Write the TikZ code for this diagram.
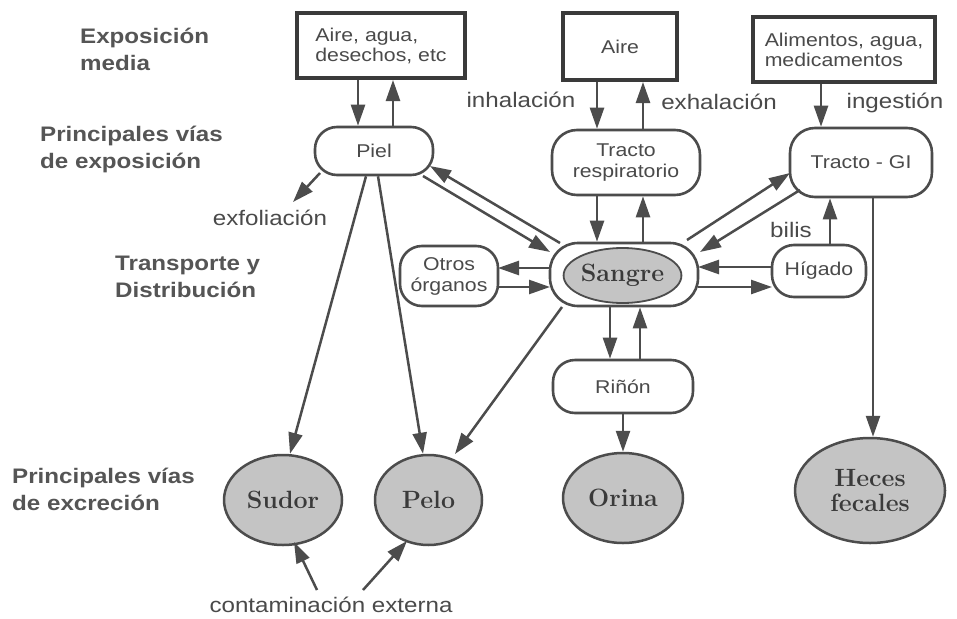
\documentclass[tikz,border=0pt]{standalone}
\usepackage{fontspec}
\newfontfamily\labf[FakeStretch=1.15]{Liberation Sans}
\usetikzlibrary{arrows.meta,shapes.geometric}
\definecolor{lc}{HTML}{4C4C4C}
\definecolor{bc}{HTML}{3A3A3A}
\definecolor{tc}{HTML}{4A4A4A}
\definecolor{sc}{HTML}{555555}
\definecolor{ef}{HTML}{C4C4C4}
\begin{document}
\begin{tikzpicture}[x=1pt,y=-1pt,
  arr/.style={draw=lc,line width=2.5pt,-{Triangle[length=21pt,width=14pt]}},
  topbox/.style={draw=bc,line width=4pt,fill=white,inner sep=0pt,text=tc,font=\labf\fontsize{18.5}{20}\selectfont,align=left},
  organ/.style={draw=lc,line width=2.6pt,rounded corners=22pt,fill=white,inner sep=0pt,text=tc,font=\labf\fontsize{18.5}{21}\selectfont,align=center},
  excr/.style={ellipse,draw=lc,line width=2.5pt,fill=ef,inner sep=0pt,text=bc,font=\bfseries\fontsize{25}{25}\selectfont,align=center},
  sidelab/.style={text=sc,font=\labf\bfseries\fontsize{21}{27}\selectfont,align=left,anchor=west,inner sep=0pt},
  lab/.style={text=tc,font=\labf\fontsize{21}{24}\selectfont,inner sep=0pt}
]
\useasboundingbox[fill=white] (0,0) rectangle (957,618);

% side labels
\node[sidelab] (l1) at (80,49) {Exposición\\media};
\node[sidelab] (l2) at (40,149) {Principales vías\\de exposición};
\node[sidelab] (l3) at (115,277) {Transporte y\\Distribución};
\node[sidelab] (l4) at (12,489) {Principales vías\\de excreción};

% other labels
\node[lab] (exf) at (270,218) {exfoliación};
\node[lab] (cont) at (331,605) {contaminación externa};
\node[lab] (inh) at (521,100) {inhalación};
\node[lab] (exh) at (719,102) {exhalación};
\node[lab] (ing) at (895,103) {ingestión};
\node[lab] (bil) at (791,230) {bilis};

% top boxes
\node[topbox,minimum width=168pt,minimum height=65pt] (box1) at (381,45.5) {Aire, agua,\\desechos, etc};
\node[topbox,minimum width=114pt,minimum height=67pt] (box2) at (620,46.5) {Aire};
\node[topbox,minimum width=182pt,minimum height=65pt] (box3) at (844,49.5) {Alimentos, agua,\\medicamentos};

% organs
\node[organ,minimum width=118pt,minimum height=48pt] (piel) at (374,151) {Piel};
\node[organ,minimum width=148pt,minimum height=65pt,rounded corners=25pt] (resp) at (626,162.5) {Tracto\\respiratorio};
\node[organ,minimum width=142pt,minimum height=69pt,rounded corners=25pt] (gi) at (861,162.5) {Tracto - GI};
\node[organ,minimum width=98pt,minimum height=60pt] (otros) at (449,276) {Otros\\órganos};
\node[organ,minimum width=148pt,minimum height=63pt,rounded corners=28pt] (sangre) at (624,274.5) {};
\node[excr,minimum width=95pt,minimum height=55pt,line width=1.8pt] (sangreE) at (622.5,275.5) {Sangre};
\node[organ,minimum width=94pt,minimum height=52pt] (higado) at (819,271) {Hígado};
\node[organ,minimum width=140pt,minimum height=53pt] (rinon) at (623,386.5) {Riñón};

% excretion
\node[excr,minimum width=118pt,minimum height=90pt] (sudor) at (283,500) {Sudor};
\node[excr,minimum width=107pt,minimum height=90pt] (pelo) at (428.5,500) {Pelo};
\node[excr,minimum width=120pt,minimum height=90pt] (orina) at (623,498) {Orina};
\node[excr,minimum width=150pt,minimum height=105pt] (heces) at (870,490.5) {Heces\\fecales};

% arrows
\draw[arr] ([shift={(-23,0)}]box1.south) -- ([shift={(-16,0)}]piel.north);
\draw[arr] ([shift={(19,0)}]piel.north) -- ([shift={(12,0)}]box1.south);
\draw[arr] ([shift={(-23,0)}]box2.south) -- ([shift={(-29,0)}]resp.north);
\draw[arr] ([shift={(17,0)}]resp.north) -- ([shift={(23,0)}]box2.south);
\draw[arr] ([shift={(-23,0)}]box3.south) -- ([shift={(-40,0)}]gi.north);
\draw[arr] ([shift={(-29,0)}]resp.south) -- ([shift={(-27,0)}]sangre.north);
\draw[arr] ([shift={(19,0)}]sangre.north) -- ([shift={(17,0)}]resp.south);
\draw[arr] ([shift={(-64,-31.5)}]sangre.center) -- ([shift={(56,15)}]piel.center);
\draw[arr] ([shift={(49,25)}]piel.center) -- ([shift={(-74,-22.5)}]sangre.center);
\draw[arr] ([shift={(63,-34.5)}]sangre.center) -- ([shift={(-71,10.5)}]gi.center);
\draw[arr] ([shift={(-61,27.5)}]gi.center) -- ([shift={(76,-22.5)}]sangre.center);
\draw[arr] ([shift={(-47,-4)}]higado.center) -- ([shift={(74,-7.5)}]sangre.center);
\draw[arr] ([shift={(74,12.5)}]sangre.center) -- ([shift={(-47,16)}]higado.center);
\draw[arr] ([shift={(11,0)}]higado.north) -- ([shift={(-31,0)}]gi.south);
\draw[arr] ([shift={(-74,-6.5)}]sangre.center) -- ([shift={(49,-8)}]otros.center);
\draw[arr] ([shift={(49,11)}]otros.center) -- ([shift={(-74,12.5)}]sangre.center);
\draw[arr] ([shift={(-14,0)}]sangre.south) -- ([shift={(-13,0)}]rinon.north);
\draw[arr] ([shift={(17,0)}]rinon.north) -- ([shift={(16,0)}]sangre.south);
\draw[arr] (rinon.south) -- (orina.north);
\draw[arr] ([shift={(12,0)}]gi.south) -- ([shift={(3,0)}]heces.north);
\draw[arr] ([shift={(-54,22)}]piel.center) -- ([shift={(23,-16)}]exf.center);
\draw[arr] ([shift={(-8,0)}]piel.south) -- ([shift={(7,0)}]sudor.north);
\draw[arr] ([shift={(4,0)}]piel.south) -- ([shift={(-5.5,0)}]pelo.north);
\draw[arr] ([shift={(-62,32.5)}]sangre.center) -- ([shift={(26.5,-46)}]pelo.center);
\draw[arr] ([shift={(-14,-15)}]cont.center) -- ([shift={(11,42)}]sudor.center);
\draw[arr] ([shift={(32,-15)}]cont.center) -- ([shift={(-21.5,41)}]pelo.center);
\end{tikzpicture}
\end{document}
